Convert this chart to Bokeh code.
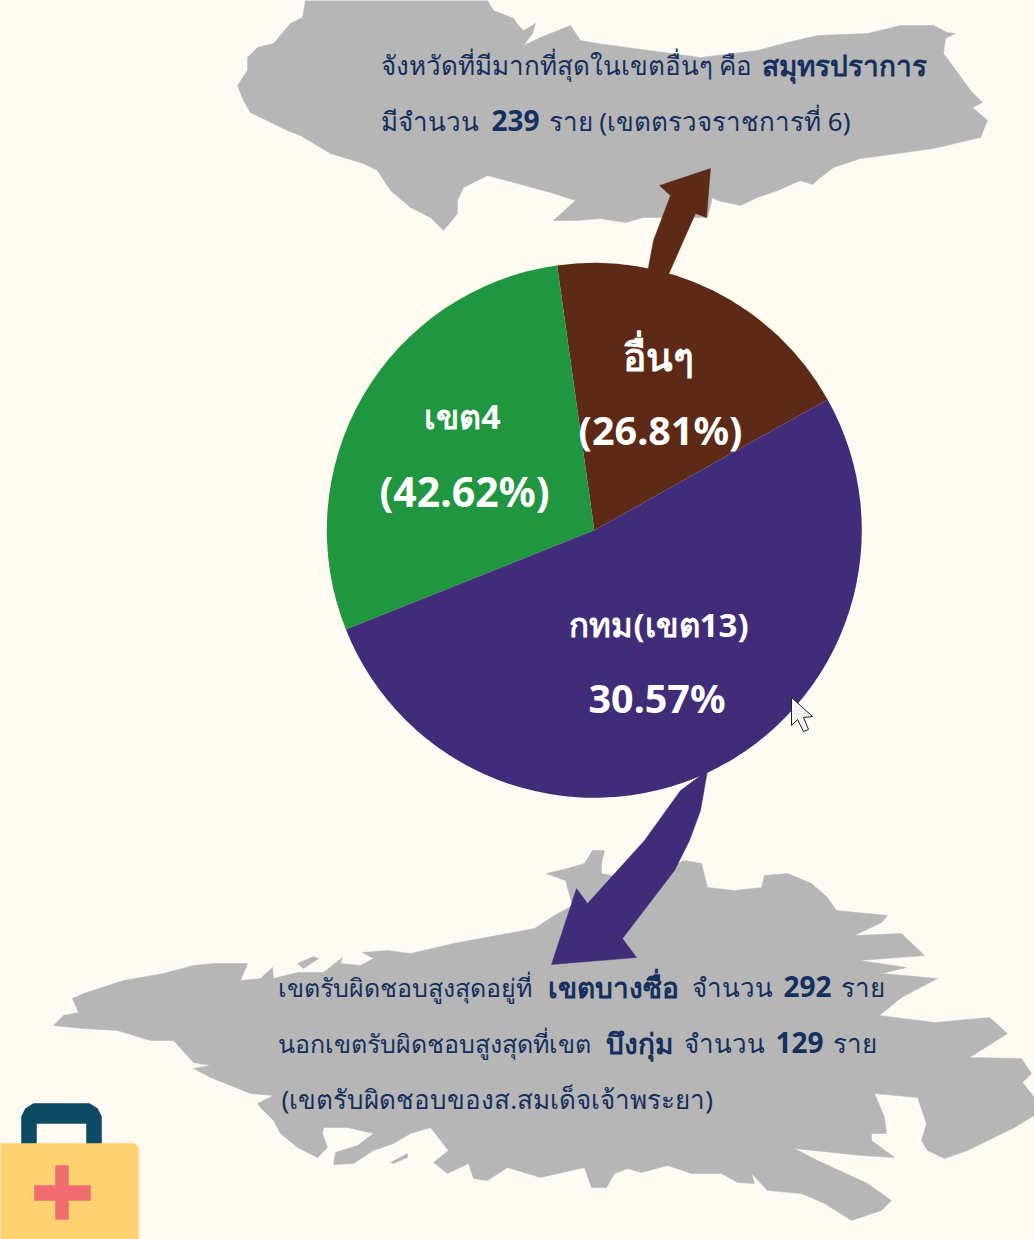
import math
import numpy as np
from bokeh.core.properties import value
from bokeh.embed import file_html
from bokeh.models import ColumnDataSource, Range1d
from bokeh.plotting import figure
from bokeh.resources import INLINE

W, H = 1034, 1239
BG = "#FFFAF2"
GREY = "#B6B6B6"
NAVY = "#14305F"
FONT = "Noto Sans"

# Slices as drawn in the picture (share of the full circle, in per cent)
slice_names = ["อื่นๆ", "เขต4", "กทม(เขต13)"]
slice_shares = [19.08, 28.83, 52.09]
slice_colors = ["#5C2A16", "#1F963F", "#402C78"]

# Printed labels
label_lines = ["อื่นๆ", "(26.81%)", "เขต4", "(42.62%)", "กทม(เขต13)", "30.57%"]
label_x = [657.5, 660, 462, 464, 658.5, 656.5]
label_y = [355, 429, 415, 490, 624, 697]
label_size = ["39px", "39.5px", "34px", "41px", "33px", "39.5px"]

# Silhouettes, traced in page pixels
top_map_x = [305,487,493,513,518,523,535,532,523,540,570,580,597,700,757,787,817,867,900,933,947,955,945,943,957,970,982,972,987,980,967,933,883,860,833,820,812,800,777,757,740,717,712,707,643,625,600,577,553,575,550,517,487,463,457,457,443,430,410,390,377,363,330,300,287,250,243,237,247,247,257,273,290,302]
top_map_y = [0,0,10,18,25,30,23,33,45,37,25,40,43,57,50,42,35,33,25,25,32,33,38,53,72,90,102,107,120,137,140,148,155,158,167,177,184,180,190,197,205,200,197,217,217,222,218,220,220,200,192,183,175,187,200,213,230,217,207,190,170,163,153,135,130,112,100,85,70,57,47,43,23,17]
bottom_map_x = [53,63,78,72,83,123,163,193,213,227,247,240,260,272,273,297,323,342,340,360,373,362,387,410,453,507,534,554,572,565,546,567,584,592,604,601,601,640,684,701,707,734,761,764,787,811,827,836,887,881,854,901,924,859,906,881,937,901,879,934,989,1007,969,1021,1031,1022,1034,1034,1014,967,944,927,921,926,917,874,884,886,871,871,894,861,794,817,867,891,881,851,824,801,767,751,754,737,721,691,667,641,627,614,606,591,584,540,507,487,473,468,447,433,448,430,410,393,373,353,333,335,357,373,347,323,322,327,317,297,280,273,260,257,273,250,210,193,210,193,173,150,117,83]
bottom_map_y = [1025,1015,1012,998,993,980,973,965,963,963,963,980,978,967,978,972,972,957,963,965,958,952,950,953,943,933,928,915,905,880,873,868,863,850,850,863,873,880,860,863,887,890,887,875,873,883,897,910,915,922,935,933,955,960,967,973,978,997,1015,1022,1017,1033,1057,1058,1073,1082,1097,1115,1127,1150,1158,1150,1140,1123,1097,1093,1117,1133,1133,1140,1157,1155,1148,1160,1183,1200,1210,1220,1203,1193,1190,1173,1183,1182,1173,1173,1165,1172,1168,1173,1187,1187,1167,1177,1167,1180,1178,1163,1173,1162,1150,1127,1133,1143,1150,1163,1164,1152,1145,1133,1127,1127,1133,1147,1157,1147,1133,1120,1107,1103,1095,1093,1077,1068,1065,1062,1040,1040,1030,1028]
islet_a_x = [297,313,318,303]
islet_a_y = [963,956,958,968]
islet_b_x = [390,407,407,393]
islet_b_y = [1162,1153,1157,1163]
brown_arrow_x = [647,653,670,659,710,706,695,683,668]
brown_arrow_y = [272,240,195,185,168,217,213,240,274]
purple_arrow_x = [680,644,587,576,551,636,622,674,689,700,707]
purple_arrow_y = [790,840,903,888,964,957,938,870,840,810,770]
cursor_x = [791,791,797,803,808,803,812]
cursor_y = [697,725,719,731,729,717,716]
case_x = [0,134,138,138,0]
case_y = [1143,1143,1147,1239,1239]
handle_x = [21,21,25,33,89,97,101,101,86,86,36,36]
handle_y = [1144,1116,1108,1103,1103,1108,1116,1144,1144,1123,1123,1144]
cross_x = [55,68,68,90,90,68,68,55,55,34,34,55]
cross_y = [1165,1165,1185,1185,1200,1200,1219,1219,1200,1200,1185,1185]

# Text runs: string, left edge, baseline, weight, size
text_runs = [
    ("จังหวัดที่มีมากที่สุดในเขตอื่นๆ คือ", 380, 64, "normal", "26px"),
    ("สมุทรปราการ", 761, 64, "bold", "28px"),
    ("มีจำนวน", 380, 120, "normal", "26px"),
    ("239", 491, 120, "bold", "28px"),
    ("ราย (เขตตรวจราชการที่ 6)", 548, 120, "normal", "26px"),
    ("เขตรับผิดชอบสูงสุดอยู่ที่", 277, 986, "normal", "25px"),
    ("เขตบางซื่อ", 547, 986, "bold", "28px"),
    ("จำนวน", 691, 986, "normal", "26px"),
    ("292", 783, 986, "bold", "28px"),
    ("ราย", 840, 986, "normal", "26px"),
    ("นอกเขตรับผิดชอบสูงสุดที่เขต", 277, 1042, "normal", "25px"),
    ("บึงกุ่ม", 605, 1042, "bold", "28px"),
    ("จำนวน", 683, 1042, "normal", "26px"),
    ("129", 775, 1042, "bold", "28px"),
    ("ราย", 832, 1042, "normal", "26px"),
    ("(เขตรับผิดชอบของส.สมเด็จเจ้าพระยา)", 281, 1098, "normal", "26px"),
]


def flip(ys):
    return [H - v for v in ys]


p = figure(width=W, height=H, x_range=Range1d(0, W), y_range=Range1d(0, H),
           toolbar_location=None, output_backend="svg", min_border=0,
           background_fill_color=BG, border_fill_color=BG, outline_line_color=None)
p.axis.visible = False
p.grid.visible = False

for mx, my in [(top_map_x, top_map_y), (bottom_map_x, bottom_map_y),
               (islet_a_x, islet_a_y), (islet_b_x, islet_b_y)]:
    p.patch(mx, flip(my), fill_color=GREY, line_color=GREY, line_width=0.5)
p.patch(brown_arrow_x, flip(brown_arrow_y), fill_color=slice_colors[0], line_color=slice_colors[0], line_width=0.5)
p.patch(purple_arrow_x, flip(purple_arrow_y), fill_color=slice_colors[2], line_color=slice_colors[2], line_width=0.5)

shares = np.array(slice_shares)
edges = math.radians(29.3) + np.concatenate([[0], np.cumsum(shares)]) / shares.sum() * 2 * math.pi
pie = ColumnDataSource(dict(name=slice_names, start=edges[:-1], end=edges[1:], color=slice_colors))
p.wedge(x=593.8, y=H - 529.8, radius=267.5, start_angle="start", end_angle="end",
        fill_color="color", line_color=None, source=pie)

p.patch(handle_x, flip(handle_y), fill_color="#0D4A63", line_color="#0D4A63", line_width=0.5)
p.patch(case_x, flip(case_y), fill_color="#FFD271", line_color="#FFD271", line_width=0.5)
p.patch(cross_x, flip(cross_y), fill_color="#F06C70", line_color="#F06C70", line_width=0.5)
p.patch(cursor_x, flip(cursor_y), fill_color="#F2F2F2", line_color="#222222", line_width=1)

p.text(x=label_x, y=flip(label_y), text=label_lines, text_color="#FFFFFF",
       text_font=value(FONT), text_font_style="bold", text_align="center",
       text_baseline="alphabetic", text_font_size=label_size)

for s, x, y, w, fs in text_runs:
    p.text(x=[x], y=[H - y], text=[s], text_color=NAVY, text_font=value(FONT),
           text_font_style=w, text_baseline="alphabetic", text_font_size=fs)

html = file_html(p, INLINE)
html = html.replace("</head>", f"<style>html,body{{margin:0;padding:0;background:{BG};overflow:hidden}}</style></head>", 1)
open("out.html", "w").write(html)
